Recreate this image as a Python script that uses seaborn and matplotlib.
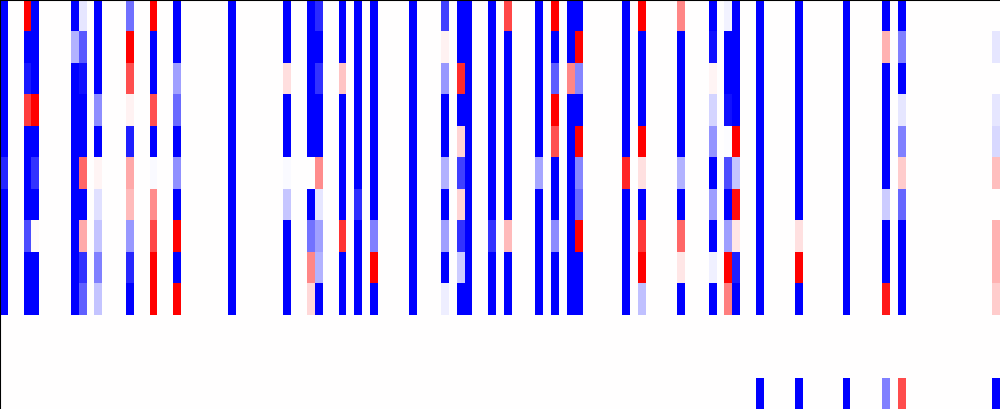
import numpy as np
import seaborn as sns
from matplotlib import pyplot as plt

n_rows = 13
n_cols = 127

# columns that hold non-zero values; every other column is 0 (white)
active_cols = [0, 3, 4, 9, 10, 12, 16, 19, 22, 29, 36, 39, 40, 43, 45, 47,
               52, 56, 58, 59, 62, 64, 68, 70, 72, 73, 79, 81, 86, 90, 92, 93,
               96, 101, 107, 112, 114, 126]

# values per active column, rows 0..12 (top to bottom)
col_values = [
    [-1, -1, -1, -1, -1, -0.85, -1, -1, -1, -1, 0, 0, 0],
    [1, -1, -0.9, 0.75, -1, -1, -1, -0.7, -1, -1, 0, 0, 0],
    [-1, -1, -1, 1, -1, -0.8, -1, 0.02, -1, -1, 0, 0, 0],
    [-1, -0.3, -1, -1, -1, -1, -1, -1, -1, -1, 0, 0, 0],
    [-0.1, -0.65, -0.93, -1, -1, 0.6, -1, 0.33, -0.8, -0.62, 0, 0, 0],
    [-1, -1, -1, -0.44, -1, 0.04, -0.12, -0.23, -0.5, -0.23, 0, 0, 0],
    [-0.56, 1, 0.69, 0.05, -0.88, 0.34, 0.27, -0.4, -0.85, -1, 0, 0, 0],
    [1, -1, -1, 0.68, -1, -0.02, 0.45, 0.72, 1, 1, 0, 0, 0],
    [-1, -1, -0.37, -0.58, -1, -0.43, -1, 1, -1, 1, 0, 0, 0],
    [-1, -1, -1, -1, -1, -1, -1, -1, -1, -1, 0, 0, 0],
    [-1, -1, 0.13, -1, -1, -0.02, -0.22, -1, -1, -1, 0, 0, 0],
    [-1, -1, -1, -1, -1, 0, -1, -0.55, 0.47, 0.15, 0, 0, 0],
    [-0.83, -1, -0.8, -1, -1, 0.45, -0.1, -0.37, -0.3, -1, 0, 0, 0],
    [-1, -1, 0.23, -1, -1, -1, -1, 0.8, -1, -1, 0, 0, 0],
    [-1, -1, -1, -1, -1, -1, -0.82, -1, -1, -1, 0, 0, 0],
    [-1, -1, -1, -1, -1, -1, -1, -0.5, 1, -1, 0, 0, 0],
    [-1, -1, -1, -1, -1, -1, -1, -1, -1, -1, 0, 0, 0],
    [-0.75, 0.05, -0.4, -1, -1, -0.3, -1, -0.37, -1, -0.07, 0, 0, 0],
    [-1, -1, 0.83, -1, 0.17, -0.75, 0.17, -0.8, -0.2, -1, 0, 0, 0],
    [-1, -1, -1, -1, -1, -1, -1, -1, -1, -1, 0, 0, 0],
    [-1, -1, -1, -1, -1, -1, -1, -0.8, -1, -1, 0, 0, 0],
    [0.72, -1, -1, -1, -1, -1, -1, 0.27, -1, -1, 0, 0, 0],
    [-1, -1, -1, -1, -1, -0.35, -1, -1, -1, -1, 0, 0, 0],
    [1, -1, -0.63, 1, 0.68, -1, -1, -0.45, -1, -1, 0, 0, 0],
    [-1, -1, 0.47, -1, -1, -1, -1, -1, -1, -1, 0, 0, 0],
    [-1, 1, -0.47, -1, 1, -0.47, -0.58, 1, -1, -1, 0, 0, 0],
    [-1, -1, -1, -1, -1, 0.85, -1, -1, -1, -1, 0, 0, 0],
    [1, -1, -1, -1, 1, 0.12, -1, 0.78, 1, -0.25, 0, 0, 0],
    [0.47, -1, -1, -1, -1, -0.3, -1, 0.6, 0.1, -1, 0, 0, 0],
    [-1, -0.93, 0.04, -0.17, -0.42, -1, -0.38, -1, -0.06, -1, 0, 0, 0],
    [-0.05, -1, -1, -0.93, -0.01, -0.7, -1, -0.38, 1, 0.5, 0, 0, 0],
    [-1, -1, -1, -1, 1, -0.23, 0.95, 0.1, -0.88, -1, 0, 0, 0],
    [-1, -1, -1, -1, -1, -1, -1, -1, -1, -1, 0, 0, -1],
    [-1, -1, -1, -1, -1, -1, -1, 0.12, 1, -1, 0, 0, -1],
    [-1, -1, -1, -1, -1, -1, -1, -1, -1, -1, 0, 0, -1],
    [-1, 0.3, -1, -1, -1, -1, -0.2, -1, -1, 0.9, 0, 0, -0.5],
    [-1, -0.5, -1, -0.1, -0.5, 0.2, -0.6, -1, -1, -1, 0, 0, 0.7],
    [0, -0.1, 0, -0.1, -0.15, 0.25, 0, 0.3, 0.3, 0.2, 0, 0, -1],
]

data = np.zeros((n_rows, n_cols))
for c, vals in zip(active_cols, col_values):
    data[:, c] = vals

fig = plt.figure(figsize=(10, 4.09), dpi=100)
ax = fig.add_axes([0, 0, 1, 1])
sns.heatmap(data, cmap="bwr", vmin=-1, vmax=1, cbar=False,
            xticklabels=False, yticklabels=False, ax=ax)
for side in ["top", "left"]:
    ax.spines[side].set_visible(True)
    ax.spines[side].set_color("black")
    ax.spines[side].set_linewidth(1.5)
fig.savefig("out.png", dpi=100)
